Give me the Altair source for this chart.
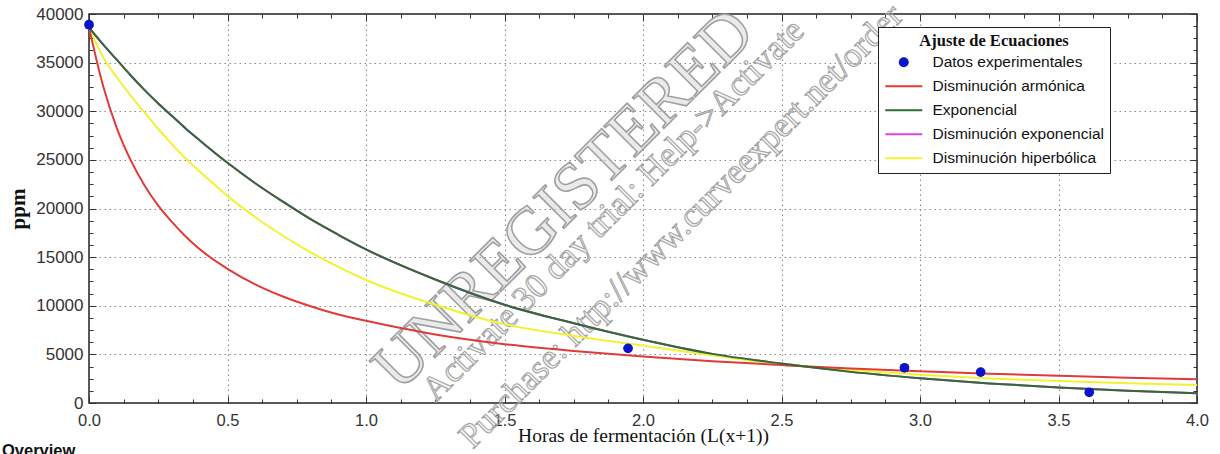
import altair as alt
import pandas as pd

# ---- experimental data: x = ln(hours + 1), concentration in ppm ----
datos_x = [0.0, 1.946, 2.944, 3.219, 3.611]
datos_ppm = [38900, 5620, 3620, 3180, 1100]

# ---- fitted curves, sampled along x ----
curva_x = [0.0, 0.05, 0.1, 0.15, 0.2, 0.25, 0.3, 0.35, 0.4, 0.5, 0.6, 0.7, 0.8, 0.9,
           1.0, 1.25, 1.5, 1.75, 2.0, 2.25, 2.5, 2.75, 3.0, 3.25, 3.5, 3.75, 4.0]
armonica = [38600, 32700, 28300, 25000, 22400, 20300, 18600, 17100, 15800, 13800, 12200,
            10950, 9950, 9100, 8450, 7050, 6050, 5350, 4780, 4300, 3900, 3540, 3260, 3020,
            2800, 2600, 2430]
exponencial = [38600, 36900, 35300, 33700, 32200, 30800, 29500, 28200, 27000, 24700, 22600,
               20700, 18900, 17300, 15800, 12700, 10100, 8200, 6500, 5050, 4050, 3200, 2550,
               2010, 1600, 1260, 1000]
exp_disminucion = [38600, 36900, 35300, 33700, 32200, 30800, 29500, 28200, 27000, 24700, 22600,
                   20700, 18900, 17300, 15800, 12700, 10100, 8200, 6500, 5050, 4050, 3200, 2550,
                   2010, 1600, 1260, 1000]
hiperbolica = [38600, 35600, 33500, 31600, 29900, 28200, 26600, 25100, 23800, 21300, 19100,
               17200, 15500, 14000, 12650, 10100, 8100, 6900, 5900, 4900, 4000, 3400, 2900,
               2520, 2250, 2030, 1850]

series = ["Datos experimentales", "Disminución armónica", "Exponencial",
          "Disminución exponencial", "Disminución hiperbólica"]
colores = ["#0a14c8", "#e03a3a", "#2f6b35", "#dd44dd", "#f2f232"]

# ---- axis ticks ----
x_major = [0.0, 0.5, 1.0, 1.5, 2.0, 2.5, 3.0, 3.5, 4.0]
x_grid = [0.5, 1.0, 1.5, 2.0, 2.5, 3.0, 3.5]
x_minor = [round(i * 0.125, 3) for i in range(33) if i % 4 != 0]
y_major = [0, 5000, 10000, 15000, 20000, 25000, 30000, 35000, 40000]
y_grid = [5000, 10000, 15000, 20000, 25000, 30000, 35000]
y_minor = [i * 1250 for i in range(33) if i % 4 != 0]

# ---- watermark / page text ----
marca = ["UNREGISTERED", "Activate 30 day trial: Help->Activate",
         "Purchase: http://www.curveexpert.net/order"]
pie = ["Overview"]

curvas = pd.concat([
    pd.DataFrame({"x": curva_x, "ppm": vals, "serie": name})
    for name, vals in [("Disminución armónica", armonica), ("Exponencial", exponencial),
                       ("Disminución exponencial", exp_disminucion),
                       ("Disminución hiperbólica", hiperbolica)]
])
puntos = pd.DataFrame({"x": datos_x, "ppm": datos_ppm, "serie": series[0]})

XS = alt.Scale(domain=[0, 4], nice=False, zero=False)
YS = alt.Scale(domain=[0, 40000], nice=False)
SANS = "Liberation Sans"
SERIF = "Liberation Serif"
TICK = "#333333"
MAJ, MIN = 7, 4


def plain(orient, values, size):
    return alt.Axis(orient=orient, values=values, offset=-size, tickSize=size, tickColor=TICK,
                    labels=False, domain=False, grid=False, title=None)


grid_x = alt.Axis(values=x_grid, ticks=False, labels=False, domain=False, grid=True,
                  gridColor="#8a8a8a", gridDash=[1.5, 3.5], gridWidth=1.1, title=None)
grid_y = alt.Axis(values=y_grid, ticks=False, labels=False, domain=False, grid=True,
                  gridColor="#8a8a8a", gridDash=[1.5, 3.5], gridWidth=1.1, title=None)

bottom = alt.Axis(orient="bottom", values=x_major, offset=-MAJ, tickSize=MAJ, tickColor=TICK,
                  domain=False, grid=False, format=".1f", labelFont=SANS, labelFontSize=16.5,
                  labelColor="#333333", labelPadding=9, labelFlush=False, labelOverlap=False,
                  title="Horas de fermentación (L(x+1))", titleFont=SERIF, titleFontSize=19.5,
                  titleFontWeight="normal", titleColor="#111111", titlePadding=-2)
left = alt.Axis(orient="left", values=y_major, offset=-MAJ, tickSize=MAJ, tickColor=TICK,
                domain=False, grid=False, format="d", labelFont=SANS, labelFontSize=17,
                labelColor="#333333", labelPadding=6, labelFlush=False, labelOverlap=False,
                title="ppm", titleFont=SERIF, titleFontSize=21, titleFontWeight="bold",
                titleColor="#111111", titlePadding=7)


def curva(name, color, xaxis, yaxis):
    return alt.Chart(curvas).transform_filter(alt.datum.serie == name).mark_line(
        color=color, strokeWidth=2, clip=True, interpolate="monotone"
    ).encode(
        x=alt.X("x:Q", scale=XS, axis=xaxis),
        y=alt.Y("ppm:Q", scale=YS, axis=yaxis),
    )


def marca_texto(text, size, xpx, ypx, width, fill_op):
    return alt.Chart(pd.DataFrame({"t": [text]})).mark_text(
        font=SERIF, fontSize=size, angle=315, align="center", baseline="middle",
        fill="#d0d0d0", fillOpacity=fill_op, stroke="#a0a0a0", strokeWidth=width
    ).encode(text="t:N", x=alt.value(xpx), y=alt.value(ypx))


wm1 = marca_texto(marca[0], 67, 475, 186, 1.6, 0.45)
wm2 = marca_texto(marca[1], 35, 524, 196, 1.0, 0.3)
wm3 = marca_texto(marca[2], 35, 592, 212, 1.0, 0.3)

l_mag = curva(series[3], colores[3], grid_x, grid_y)
l_yel = curva(series[4], colores[4], bottom, left)
l_red = curva(series[1], colores[1], plain("bottom", x_minor, MIN), plain("left", y_minor, MIN))
l_grn = curva(series[2], colores[2], plain("top", x_major, MAJ), plain("right", y_major, MAJ))

sym_is_dot = "datum.value === 'Datos experimentales'"
leyenda = alt.Legend(
    orient="none", legendX=789, legendY=13, direction="vertical",
    title="Ajuste de Ecuaciones", titleFont=SERIF, titleFontSize=16.5, titleFontWeight="bold",
    titleColor="#111111", titleAnchor="middle", titlePadding=5,
    labelFont=SANS, labelFontSize=15.5, labelColor="#111111", labelLimit=400,
    labelOffset=21, symbolOffset=12, symbolSize=100, rowPadding=7, padding=6,
    strokeColor="#222222", fillColor="white",
    symbolType={"expr": f"{sym_is_dot} ? 'circle' : 'M-3.7,0H3.7'"},
    symbolStrokeColor={"expr": "scale('color', datum.value)"},
    symbolStrokeWidth={"expr": f"{sym_is_dot} ? 0 : 2"},
    symbolOpacity=1,
)

pts = alt.Chart(puntos).mark_point(filled=True, size=95, opacity=1).encode(
    x=alt.X("x:Q", scale=XS, axis=plain("top", x_minor, MIN)),
    y=alt.Y("ppm:Q", scale=YS, axis=plain("right", y_minor, MIN)),
    color=alt.Color("serie:N", scale=alt.Scale(domain=series, range=colores), legend=leyenda),
)

overview = alt.Chart(pd.DataFrame({"t": pie})).mark_text(
    font=SANS, fontSize=16.5, fontWeight="bold", color="#111111", align="left",
    baseline="alphabetic"
).encode(text="t:N", x=alt.value(-87), y=alt.value(442))

chart = alt.layer(
    wm1, wm2, wm3, l_mag, l_yel, l_red, l_grn, pts, overview
).resolve_axis(x="independent", y="independent").properties(
    width=1108, height=389,
    autosize=alt.AutoSizeParams(type="none"),
    padding={"left": 89, "top": 14, "right": 23, "bottom": 51},
    background="white",
).configure_view(stroke="#222222", strokeWidth=1.5)

chart.save("out.html", embed_options={"renderer": "svg", "actions": False})
